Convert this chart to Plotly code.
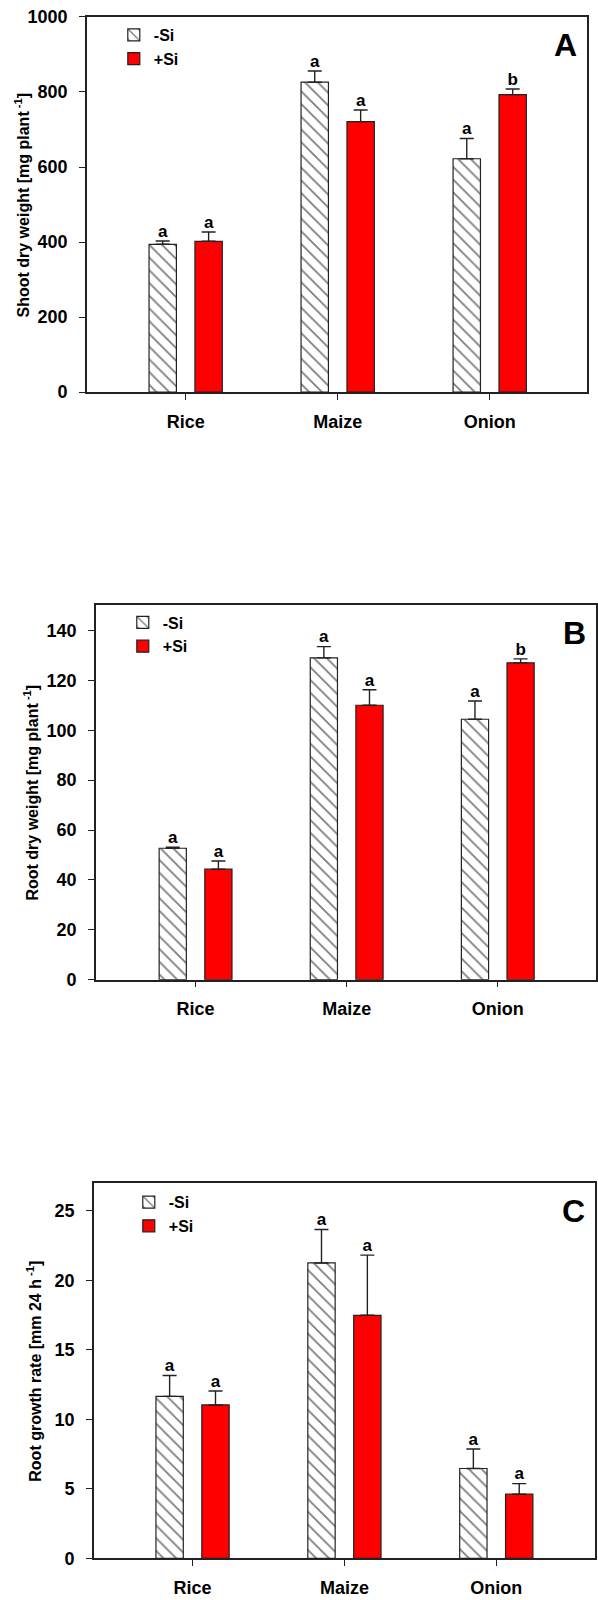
import plotly.graph_objects as go

categories = ["Rice", "Maize", "Onion"]
series_names = ["-Si", "+Si"]

# Panel A: shoot dry weight
shoot_minus = [394, 826, 622]
shoot_minus_err = [9, 30, 54]
shoot_plus = [402, 721, 793]
shoot_plus_err = [25, 31, 15]
shoot_minus_sig = ["a", "a", "a"]
shoot_plus_sig = ["a", "a", "b"]

# Panel B: root dry weight
root_minus = [52.7, 129.0, 104.4]
root_minus_err = [0.4, 4.5, 7.3]
root_plus = [44.3, 110.0, 127.0]
root_plus_err = [3.3, 6.2, 1.6]
root_minus_sig = ["a", "a", "a"]
root_plus_sig = ["a", "a", "b"]

# Panel C: root growth rate
rate_minus = [11.66, 21.26, 6.47]
rate_minus_err = [1.5, 2.4, 1.4]
rate_plus = [11.04, 17.49, 4.62]
rate_plus_err = [1.0, 4.33, 0.76]
rate_minus_sig = ["a", "a", "a"]
rate_plus_sig = ["a", "a", "a"]

W, H = 598, 1600
FONT = "Liberation Sans, Arial, Helvetica, sans-serif"
LINE = "#222222"

panels = [
    dict(letter="A", minus=shoot_minus, minus_err=shoot_minus_err, plus=shoot_plus,
         plus_err=shoot_plus_err, msig=shoot_minus_sig, psig=shoot_plus_sig,
         yrange=[0, 1000], dtick=200, title="Shoot dry weight [mg plant<sup> -1</sup>]",
         px=(87, 588), py=(7, 387), xr=[-0.65, 2.64], title_x=22,
         leg=(114, 8)),
    dict(letter="B", minus=root_minus, minus_err=root_minus_err, plus=root_plus,
         plus_err=root_plus_err, msig=root_minus_sig, psig=root_plus_sig,
         yrange=[0, 150], dtick=20, title="Root dry weight [mg plant<sup> -1</sup>]",
         px=(96, 597), py=(603, 982), xr=[-0.66, 2.65], title_x=31,
         leg=(123, 603)),
    dict(letter="C", minus=rate_minus, minus_err=rate_minus_err, plus=rate_plus,
         plus_err=rate_plus_err, msig=rate_minus_sig, psig=rate_plus_sig,
         yrange=[0, 27], dtick=5, title="Root growth rate [mm 24 h<sup> -1</sup>]",
         px=(94, 596), py=(1188, 1568), xr=[-0.65, 2.65], title_x=34,
         leg=(129, 1190)),
]

OFF = 0.151
BW = 0.18
idx = list(range(len(categories)))

fig = go.Figure()
annotations = []
layout = {}

for k, p in enumerate(panels):
    n = "" if k == 0 else str(k + 1)
    xa, ya = "x" + n, "y" + n
    legname = "legend" + n
    xm = [i - OFF for i in idx]
    xp = [i + OFF for i in idx]
    fig.add_trace(go.Bar(
        x=xm, y=p["minus"], width=BW, name=series_names[0], xaxis=xa, yaxis=ya,
        legend=legname,
        marker=dict(color="white", line=dict(color=LINE, width=1.2),
                    pattern=dict(shape="\\", fgcolor="black", bgcolor="white",
                                 size=9, solidity=0.2)),
        error_y=dict(type="data", symmetric=False, array=p["minus_err"],
                     arrayminus=[0] * 3, color=LINE, thickness=1.4, width=7),
    ))
    fig.add_trace(go.Bar(
        x=xp, y=p["plus"], width=BW, name=series_names[1], xaxis=xa, yaxis=ya,
        legend=legname,
        marker=dict(color="#ff0000", line=dict(color=LINE, width=1.2)),
        error_y=dict(type="data", symmetric=False, array=p["plus_err"],
                     arrayminus=[0] * 3, color=LINE, thickness=1.4, width=7),
    ))
    # significance letters
    fig.add_trace(go.Scatter(
        x=xm + xp,
        y=[v + e for v, e in zip(p["minus"], p["minus_err"])] +
          [v + e for v, e in zip(p["plus"], p["plus_err"])],
        text=p["msig"] + p["psig"], mode="text", textposition="top center",
        textfont=dict(family=FONT, size=17, color="black", weight="bold"),
        showlegend=False, hoverinfo="skip", xaxis=xa, yaxis=ya, cliponaxis=False,
    ))

    x0, x1 = p["px"]
    y0, y1 = p["py"]
    layout["xaxis" + n] = dict(
        domain=[x0 / W, x1 / W], anchor=ya, range=p["xr"],
        tickvals=idx, ticktext=categories, showline=True, mirror=True,
        linecolor=LINE, linewidth=1.5, ticks="outside", ticklen=6, tickwidth=1.3,
        tickcolor=LINE, showgrid=False, zeroline=False, ticklabelstandoff=6,
        ticklabeloverflow="allow",
        tickfont=dict(family=FONT, size=18, color="black", weight="bold"),
    )
    layout["yaxis" + n] = dict(
        domain=[1 - y1 / H, 1 - y0 / H], anchor=xa, range=p["yrange"],
        dtick=p["dtick"], tick0=0, showline=True, mirror=True,
        linecolor=LINE, linewidth=1.5, ticks="outside", ticklen=6, tickwidth=1.3,
        tickcolor=LINE, showgrid=False, zeroline=False, ticklabelstandoff=8,
        ticklabeloverflow="allow",
        tickfont=dict(family=FONT, size=18, color="black", weight="bold"),
    )
    lx, ly = p["leg"]
    layout[legname] = dict(
        x=lx / W, y=1 - ly / H, xanchor="left", yanchor="top",
        bgcolor="rgba(0,0,0,0)", borderwidth=0, itemwidth=30,
        font=dict(family=FONT, size=16, color="black", weight="bold"),
        tracegroupgap=0, traceorder="normal",
    )
    annotations.append(dict(
        text=p["letter"], xref="paper", yref="paper",
        x=(x1 - 8) / W, y=1 - (y0 + 8) / H, xanchor="right", yanchor="top",
        showarrow=False, font=dict(family=FONT, size=32, color="black", weight="bold"),
    ))
    annotations.append(dict(
        text=p["title"], xref="paper", yref="paper",
        x=p["title_x"] / W, y=1 - (y0 + y1) / 2 / H, xanchor="center", yanchor="middle",
        textangle=-90, showarrow=False,
        font=dict(family=FONT, size=16, color="black", weight="bold"),
    ))

fig.update_layout(
    width=W, height=H, margin=dict(l=0, r=0, t=0, b=0),
    paper_bgcolor="white", plot_bgcolor="white",
    barmode="overlay", showlegend=True, annotations=annotations,
    font=dict(family=FONT, color="black"),
    **layout,
)

fig.write_html(
    "out.html",
    config={"displayModeBar": False},
    post_script="document.body.style.margin='0';document.body.style.padding='0';"
                "document.documentElement.style.overflow='hidden';",
)
